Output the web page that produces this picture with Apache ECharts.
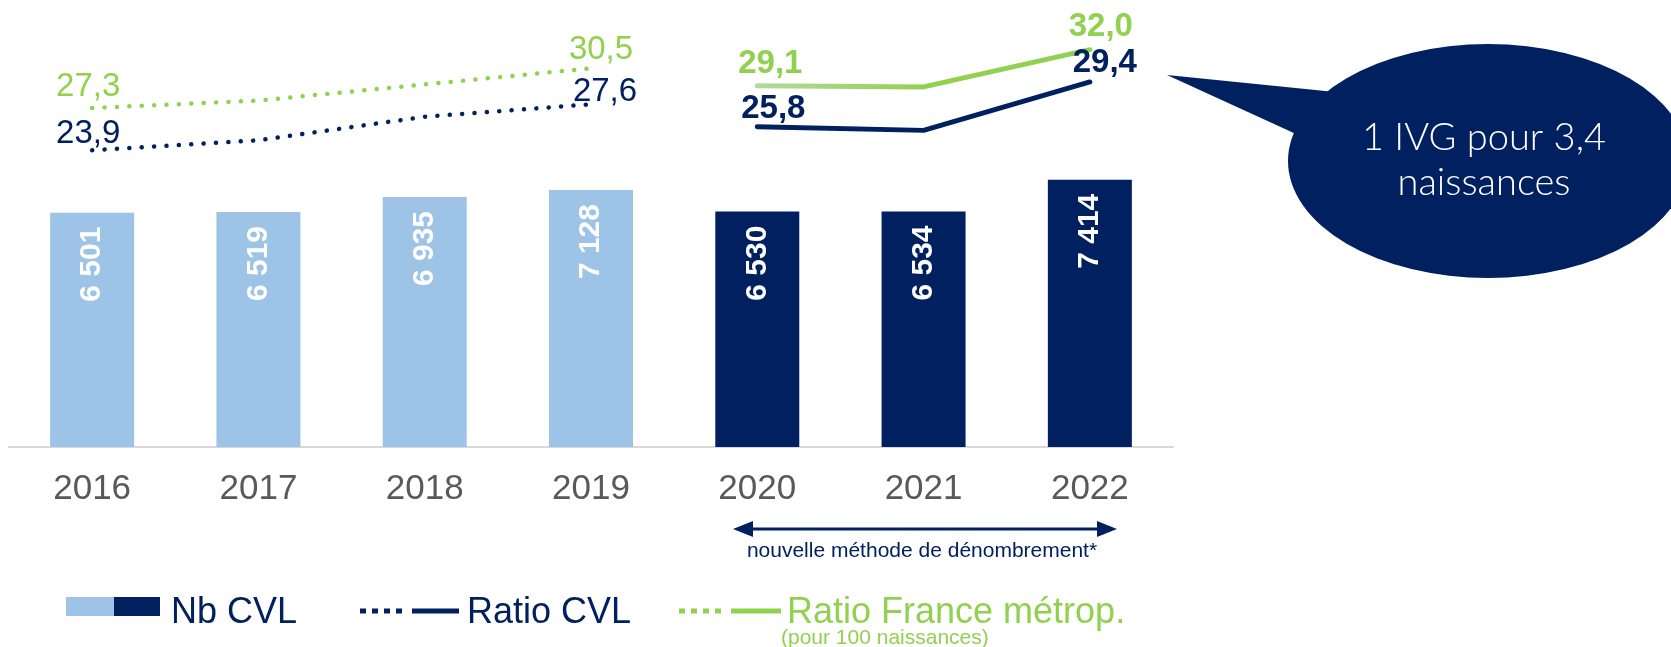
<!DOCTYPE html>
<html>
<head>
<meta charset="utf-8">
<title>IVG Centre-Val de Loire</title>
<script src="https://cdn.jsdelivr.net/npm/echarts@6/dist/echarts.min.js"></script>
<style>
html, body { margin: 0; padding: 0; background: #fff; }
#chart { width: 1671px; height: 647px; }
</style>
</head>
<body>
<div id="chart"></div>
<script>
// donnees
var annees = ['2016', '2017', '2018', '2019', '2020', '2021', '2022'];
var nbCvl = [6501, 6519, 6935, 7128, 6530, 6534, 7414];
var ratioCvl = [23.9, 24.7, 26.6, 27.6, 25.8, 25.5, 29.4];
var ratioFrance = [27.3, 27.9, 29.2, 30.5, 29.1, 29.0, 32.0];
var anneeNouvelleMethode = '2020';

var BLEU_CLAIR = '#9DC3E6';
var MARINE = '#002060';
var VERT = '#92D050';
var GRIS = '#595959';
var FONT = '"Liberation Sans", Arial, sans-serif';

var debutNouv = annees.indexOf(anneeNouvelleMethode);

function fmtMilliers(v) {
	return String(v).replace(/\B(?=(\d{3})+(?!\d))/g, ' ');
}
function fmtVirgule(v) {
	return Number(v).toFixed(1).replace('.', ',');
}

// garde une partie de la serie (ancienne ou nouvelle methode), etiquettes aux extremites
function partie(valeurs, nouvelle, offDebut, offFin) {
	var premier = nouvelle ? debutNouv : 0;
	var dernier = nouvelle ? valeurs.length - 1 : debutNouv - 1;
	var out = [];
	for (var i = 0; i < valeurs.length; i++) {
		if (i < premier || i > dernier) {
			out.push(null);
			continue;
		}
		var item = { value: valeurs[i] };
		if (i == premier || i == dernier) {
			item.label = { show: true, offset: (i == premier) ? offDebut : offFin };
		}
		out.push(item);
	}
	return out;
}

function serieLigne(nom, valeurs, nouvelle, couleur, offDebut, offFin) {
	var ligne;
	if (nouvelle) {
		ligne = { color: couleur, width: 5, cap: 'round' };
	} else {
		ligne = { color: couleur, width: 4.5, type: [0.1, 12.3], cap: 'round' };
	}
	var couleurTexte = typeof couleur == 'string' ? couleur : VERT;
	return {
		name: nom,
		type: 'line',
		yAxisIndex: 1,
		data: partie(valeurs, nouvelle, offDebut, offFin),
		symbol: 'circle',
		symbolSize: 0.1,
		showAllSymbol: true,
		itemStyle: { color: couleurTexte },
		lineStyle: ligne,
		label: {
			show: false,
			position: 'top',
			distance: 0,
			color: couleurTexte,
			fontSize: 33,
			fontFamily: FONT,
			fontWeight: nouvelle ? 'bold' : 'normal',
			formatter: function (p) { return fmtVirgule(p.value); }
		},
		z: 3,
		silent: true
	};
}

var vertDegrade = new echarts.graphic.LinearGradient(0, 0, 1, 0, [
	{ offset: 0, color: '#B4DA9C' },
	{ offset: 0.5, color: VERT },
	{ offset: 1, color: VERT }
]);

var chart = echarts.init(document.getElementById('chart'));

var option = {
	animation: false,
	grid: { left: 9, right: 498, top: 0, bottom: 200 },
	xAxis: {
		type: 'category',
		data: annees,
		axisTick: { show: false },
		axisLine: { lineStyle: { color: '#D9D9D9', width: 2 } },
		axisLabel: { fontSize: 35, color: GRIS, margin: 25, fontFamily: FONT }
	},
	yAxis: [
		{ type: 'value', min: 0, max: 12400, show: false },
		{ type: 'value', min: 0, max: 36, show: false }
	],
	series: [
		{
			name: 'Nb CVL',
			type: 'bar',
			data: nbCvl,
			barWidth: 84,
			itemStyle: {
				color: function (p) { return p.dataIndex >= debutNouv ? MARINE : BLEU_CLAIR; }
			},
			label: {
				show: true,
				position: 'insideTop',
				distance: 14,
				rotate: 90,
				align: 'right',
				verticalAlign: 'middle',
				color: '#fff',
				fontSize: 30,
				fontWeight: 'bold',
				fontFamily: FONT,
				formatter: function (p) { return fmtMilliers(p.value); }
			},
			silent: true
		},
		serieLigne('Ratio France', ratioFrance, false, VERT, [-4, -5], [10, -2]),
		serieLigne('Ratio CVL', ratioCvl, false, MARINE, [-4, 0], [14, 4]),
		serieLigne('Ratio France', ratioFrance, true, vertDegrade, [13, -5], [11, -6]),
		serieLigne('Ratio CVL', ratioCvl, true, MARINE, [16, -1], [15, -2])
	],
	graphic: [
		// bulle
		{ type: 'polygon', shape: { points: [[1167, 75], [1345, 93], [1320, 145]] }, style: { fill: MARINE } },
		{ type: 'circle', x: 1488, y: 161, scaleX: 200 / 117, shape: { cx: 0, cy: 0, r: 117 }, style: { fill: MARINE } },
		{
			type: 'text', x: 1484, y: 160,
			style: {
				text: '1 IVG pour 3,4\nnaissances', fill: '#fff', font: '300 38px Lato, "Open Sans", sans-serif',
				lineHeight: 45, textAlign: 'center', textVerticalAlign: 'middle'
			}
		},
		// fleche nouvelle methode
		{ type: 'line', shape: { x1: 748, y1: 529, x2: 1102, y2: 529 }, style: { stroke: MARINE, lineWidth: 3 } },
		{ type: 'polygon', shape: { points: [[733, 529], [753, 521], [753, 537]] }, style: { fill: MARINE } },
		{ type: 'polygon', shape: { points: [[1117, 529], [1097, 521], [1097, 537]] }, style: { fill: MARINE } },
		{
			type: 'text', x: 922, y: 551,
			style: { text: 'nouvelle méthode de dénombrement*', fill: MARINE, font: '21px ' + FONT, textAlign: 'center', textVerticalAlign: 'middle' }
		},
		// legende
		{ type: 'rect', shape: { x: 66, y: 597, width: 48, height: 19 }, style: { fill: BLEU_CLAIR } },
		{ type: 'rect', shape: { x: 114, y: 597, width: 46, height: 19 }, style: { fill: MARINE } },
		{ type: 'text', x: 171, y: 613, style: { text: 'Nb CVL', fill: MARINE, font: '36px ' + FONT, textVerticalAlign: 'middle' } },
		{ type: 'line', shape: { x1: 360, y1: 611, x2: 402, y2: 611 }, style: { stroke: MARINE, lineWidth: 5, lineDash: [6, 6] } },
		{ type: 'line', shape: { x1: 412, y1: 611, x2: 459, y2: 611 }, style: { stroke: MARINE, lineWidth: 5 } },
		{ type: 'text', x: 467, y: 613, style: { text: 'Ratio CVL', fill: MARINE, font: '36px ' + FONT, textVerticalAlign: 'middle' } },
		{ type: 'line', shape: { x1: 679, y1: 611, x2: 722, y2: 611 }, style: { stroke: VERT, lineWidth: 5, lineDash: [6, 6] } },
		{ type: 'line', shape: { x1: 731, y1: 611, x2: 781, y2: 611 }, style: { stroke: VERT, lineWidth: 5 } },
		{ type: 'text', x: 787, y: 613, style: { text: 'Ratio France métrop.', fill: VERT, font: '36px ' + FONT, textVerticalAlign: 'middle' } },
		{ type: 'text', x: 781, y: 638, style: { text: '(pour 100 naissances)', fill: VERT, font: '21px ' + FONT, textVerticalAlign: 'middle' } }
	]
};

chart.setOption(option);
</script>
</body>
</html>
